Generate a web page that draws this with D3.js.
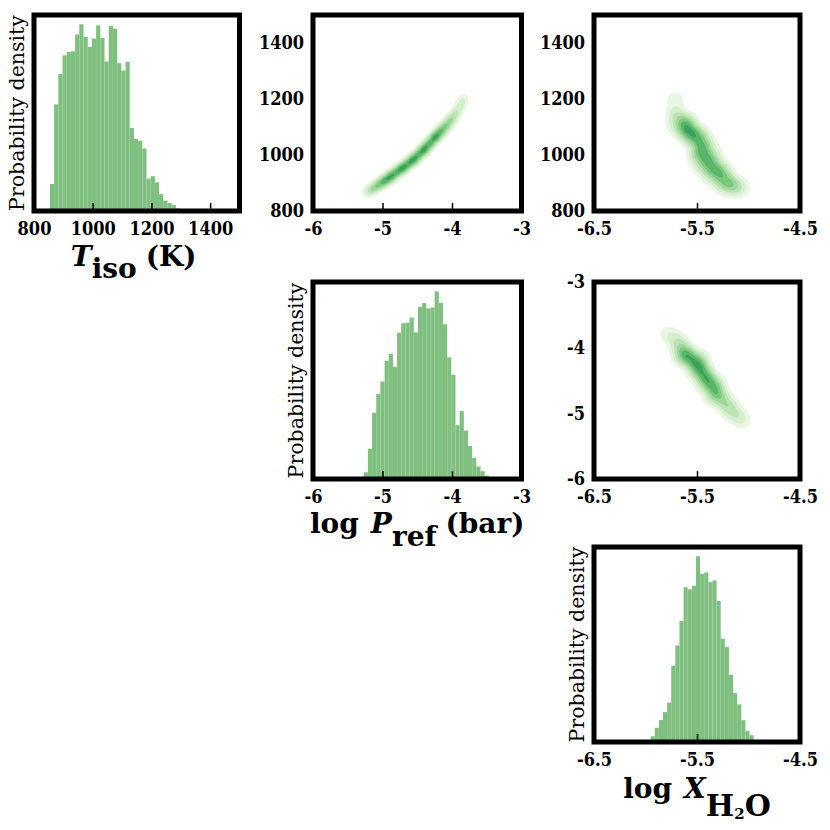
<!DOCTYPE html>
<html>
<head>
<meta charset="utf-8">
<script src="https://cdn.jsdelivr.net/npm/d3@7"></script>
<style>
  body { margin: 0; background: #fff; }
  .tick text { font-family: "DejaVu Serif Condensed", "DejaVu Serif", serif; font-stretch: condensed; font-weight: bold; font-size: 18px; fill: #000; }
  .ylab { font-family: "DejaVu Serif", serif; font-size: 20.5px; fill: #000; }
  .xlab { font-family: "DejaVu Serif", serif; font-weight: bold; font-size: 28px; fill: #000; }
</style>
</head>
<body>
<div id="chart"></div>
<script>
// ---- data ----

// histogram of T_iso (K): first bin edge, bin width, bar heights
const tisoBinLo = 840, tisoBinWidth = 14.3;
const tisoCounts = [3, 80, 316, 406, 461, 471, 473, 523, 553, 516, 486, 511, 550, 513, 443, 548, 540, 438,
  416, 442, 246, 213, 208, 185, 96, 103, 85, 50, 31, 24, 18, 8, 4, 3, 2, 1];

// histogram of log P_ref (bar)
const prefBinLo = -5.33, prefBinWidth = 0.06;
const prefCounts = [3, 20, 90, 197, 253, 290, 352, 372, 333, 435, 463, 465, 480, 436, 512, 523, 507, 510,
  558, 524, 460, 362, 310, 160, 202, 144, 98, 63, 37, 23, 10, 3];

// histogram of log X_H2O
const xh2oBinLo = -5.99, xh2oBinWidth = 0.04;
const xh2oCounts = [4, 17, 42, 65, 89, 117, 227, 287, 360, 460, 454, 464, 552, 500, 504, 475, 480, 419,
  307, 282, 199, 145, 112, 65, 32, 20, 4];

// axis ranges and tick labels
const tisoDomain = [800, 1500], tisoTicks = [800, 1000, 1200, 1400];
const prefDomain = [-6, -3], prefTicks = [-6, -5, -4, -3];
const xh2oDomain = [-6.5, -4.5], xh2oTicks = [-6.5, -5.5, -4.5];

// 2D posterior: [log P_ref, T_iso, weight]
const prefTisoPoints = [
  [-5.20, 870, 0.25], [-5.12, 882, 0.45], [-5.04, 896, 0.6], [-4.96, 909, 0.75], [-4.88, 923, 0.85],
  [-4.80, 938, 0.7], [-4.72, 952, 0.9], [-4.64, 967, 0.75], [-4.56, 983, 0.95], [-4.48, 1001, 0.8],
  [-4.40, 1020, 1.0], [-4.32, 1042, 0.85], [-4.24, 1064, 1.0], [-4.16, 1085, 0.8], [-4.08, 1106, 0.6],
  [-4.01, 1128, 0.45], [-3.94, 1151, 0.3], [-3.88, 1176, 0.2], [-3.84, 1199, 0.15]
];

// 2D posterior: [log X_H2O, T_iso, weight]
const xh2oTisoPoints = [
  [-5.73, 1198, 0.15], [-5.69, 1198, 0.1], [-5.71, 1150, 0.35], [-5.66, 1128, 0.5], [-5.61, 1105, 1.0],
  [-5.57, 1075, 1.0], [-5.52, 1085, 0.5], [-5.47, 1066, 0.8], [-5.53, 1050, 0.6], [-5.45, 1028, 0.9],
  [-5.48, 1005, 0.6], [-5.41, 1000, 0.7], [-5.39, 974, 0.85], [-5.44, 955, 0.5], [-5.34, 958, 0.6],
  [-5.30, 943, 0.85], [-5.36, 925, 0.5], [-5.25, 922, 0.6], [-5.19, 900, 0.8], [-5.26, 895, 0.5],
  [-5.12, 890, 0.4], [-5.64, 1085, 0.5], [-5.58, 1120, 0.4], [-5.40, 1045, 0.4], [-5.33, 1000, 0.4],
  [-5.06, 885, 0.25], [-5.15, 880, 0.3], [-5.72, 1110, 0.3], [-5.50, 990, 0.4], [-5.23, 945, 0.35]
];

// 2D posterior: [log X_H2O, log P_ref, weight]
const xh2oPrefPoints = [
  [-5.78, -3.80, 0.25], [-5.70, -3.88, 0.35], [-5.66, -3.98, 0.55], [-5.61, -4.08, 0.9], [-5.57, -4.17, 1.1],
  [-5.50, -4.23, 0.9], [-5.46, -4.33, 0.9], [-5.52, -4.36, 0.5], [-5.42, -4.42, 0.8], [-5.39, -4.50, 0.9],
  [-5.44, -4.55, 0.4], [-5.34, -4.60, 0.8], [-5.30, -4.70, 0.8], [-5.35, -4.75, 0.4], [-5.25, -4.80, 0.55],
  [-5.20, -4.90, 0.55], [-5.15, -4.98, 0.4], [-5.09, -5.06, 0.3], [-5.05, -5.12, 0.15], [-5.66, -4.13, 0.45],
  [-5.46, -4.18, 0.4], [-5.30, -4.55, 0.35]
];

// contour levels as fractions of the peak density
const levelFractions = [0.05, 0.14, 0.27, 0.42, 0.58, 0.74, 0.9];

// ---- layout ----
const width = 830, height = 830;
const cols = [[34, 239.5], [313, 521.5], [594, 800]];
const rows = [[15, 211], [282, 479], [547, 742]];
const barColor = '#7fbf7f';

const svg = d3.select('#chart').append('svg')
  .attr('width', width)
  .attr('height', height);

function panel(ci, ri, id) {
  const [x0, x1] = cols[ci], [y0, y1] = rows[ri];
  const w = x1 - x0, h = y1 - y0;
  svg.append('clipPath').attr('id', id)
    .append('rect').attr('width', w).attr('height', h);
  const g = svg.append('g').attr('transform', 'translate(' + x0 + ',' + y0 + ')');
  return { g, w, h, x0, y0, id };
}

function xAxis(p, x, ticks) {
  p.g.append('g')
    .attr('transform', 'translate(0,' + p.h + ')')
    .call(d3.axisBottom(x).tickValues(ticks).tickSize(-8).tickPadding(11).tickFormat(String))
    .call(a => a.select('.domain').remove())
    .call(a => a.selectAll('.tick line').attr('stroke-width', 1.5));
}

function yAxis(p, y, ticks) {
  p.g.append('g')
    .call(d3.axisLeft(y).tickValues(ticks).tickSize(0).tickPadding(9).tickFormat(String))
    .call(a => a.select('.domain').remove());
}

function frame(p) {
  p.g.append('rect')
    .attr('width', p.w).attr('height', p.h)
    .attr('fill', 'none').attr('stroke', '#000').attr('stroke-width', 5);
}

function yLabel(p) {
  p.g.append('text')
    .attr('class', 'ylab')
    .attr('transform', 'translate(-10.5,' + (p.h / 2) + ') rotate(-90)')
    .attr('text-anchor', 'middle')
    .text('Probability density');
}

function histogram(p, counts, lo, bw, domain, ticks) {
  const total = d3.sum(counts);
  const bins = counts.map((c, i) => ({ x0: lo + i * bw, x1: lo + (i + 1) * bw, d: c / (total * bw) }));
  const x = d3.scaleLinear().domain(domain).range([0, p.w]);
  const y = d3.scaleLinear().domain([0, d3.max(bins, b => b.d) * 1.05]).range([p.h, 0]);

  p.g.append('g')
    .attr('clip-path', 'url(#' + p.id + ')')
    .selectAll('rect')
    .data(bins)
    .enter()
    .append('rect')
    .attr('x', b => x(b.x0))
    .attr('width', b => x(b.x1) - x(b.x0))
    .attr('y', b => y(b.d))
    .attr('height', b => y(0) - y(b.d))
    .attr('fill', barColor);

  xAxis(p, x, ticks);
  yLabel(p);
  frame(p);
}

function densityPanel(p, pts, xDomain, yDomain, xTicks, yTicks, bandwidth) {
  const x = d3.scaleLinear().domain(xDomain).range([0, p.w]);
  const y = d3.scaleLinear().domain(yDomain).range([p.h, 0]);

  const density = d3.contourDensity()
    .x(d => x(d[0]))
    .y(d => y(d[1]))
    .weight(d => d[2])
    .size([Math.round(p.w), Math.round(p.h)])
    .cellSize(1)
    .bandwidth(bandwidth);

  let contours;
  if (typeof density.contours === 'function') {
    const est = density.contours(pts);
    contours = levelFractions.map(f => est(f * est.max));
  } else {
    const fine = density.thresholds(200)(pts);
    const maxVal = fine[fine.length - 1].value;
    contours = density.thresholds(levelFractions.map(f => f * maxVal))(pts);
  }

  const color = d3.scaleLinear()
    .domain([0, levelFractions.length - 1])
    .range([0.1, 0.66]);

  p.g.append('g')
    .attr('clip-path', 'url(#' + p.id + ')')
    .selectAll('path')
    .data(contours)
    .enter()
    .append('path')
    .attr('d', d3.geoPath())
    .attr('fill', (d, i) => d3.interpolateGreens(color(i)))
    .attr('stroke', 'none');

  xAxis(p, x, xTicks);
  yAxis(p, y, yTicks);
  frame(p);
}

// top row
const pT = panel(0, 0, 'c0');
histogram(pT, tisoCounts, tisoBinLo, tisoBinWidth, tisoDomain, tisoTicks);

const pPT = panel(1, 0, 'c1');
densityPanel(pPT, prefTisoPoints, prefDomain, tisoDomain, prefTicks, tisoTicks, 3.5);

const pXT = panel(2, 0, 'c2');
densityPanel(pXT, xh2oTisoPoints, xh2oDomain, tisoDomain, xh2oTicks, tisoTicks, 5.5);

// middle row
const pP = panel(1, 1, 'c3');
histogram(pP, prefCounts, prefBinLo, prefBinWidth, prefDomain, prefTicks);

const pXP = panel(2, 1, 'c4');
densityPanel(pXP, xh2oPrefPoints, xh2oDomain, prefDomain, xh2oTicks, prefTicks, 5.5);

// bottom row
const pX = panel(2, 2, 'c5');
histogram(pX, xh2oCounts, xh2oBinLo, xh2oBinWidth, xh2oDomain, xh2oTicks);

// axis titles under the histograms
const tl = pT.g.append('text').attr('class', 'xlab')
  .attr('x', pT.w / 2 - 3).attr('y', pT.h + 55).attr('text-anchor', 'middle');
tl.append('tspan').attr('font-style', 'italic').text('T');
tl.append('tspan').attr('dy', 12).text('iso');
tl.append('tspan').attr('dy', -12).attr('dx', 9).text('(K)');

const pl = pP.g.append('text').attr('class', 'xlab')
  .attr('x', pP.w / 2).attr('y', pP.h + 54).attr('text-anchor', 'middle');
pl.append('tspan').text('log');
pl.append('tspan').attr('dx', 12).attr('font-style', 'italic').text('P');
pl.append('tspan').attr('dy', 13).text('ref');
pl.append('tspan').attr('dy', -13).attr('dx', 9).text('(bar)');

const xl = pX.g.append('text').attr('class', 'xlab')
  .attr('x', pX.w / 2).attr('y', pX.h + 56).attr('text-anchor', 'middle');
xl.append('tspan').text('log');
xl.append('tspan').attr('dx', 12).attr('font-style', 'italic').text('X');
xl.append('tspan').attr('dy', 18).attr('font-size', 30).text('H');
xl.append('tspan').attr('dy', 3).attr('font-size', 15).text('2');
xl.append('tspan').attr('dy', -3).attr('font-size', 30).text('O');
</script>
</body>
</html>
